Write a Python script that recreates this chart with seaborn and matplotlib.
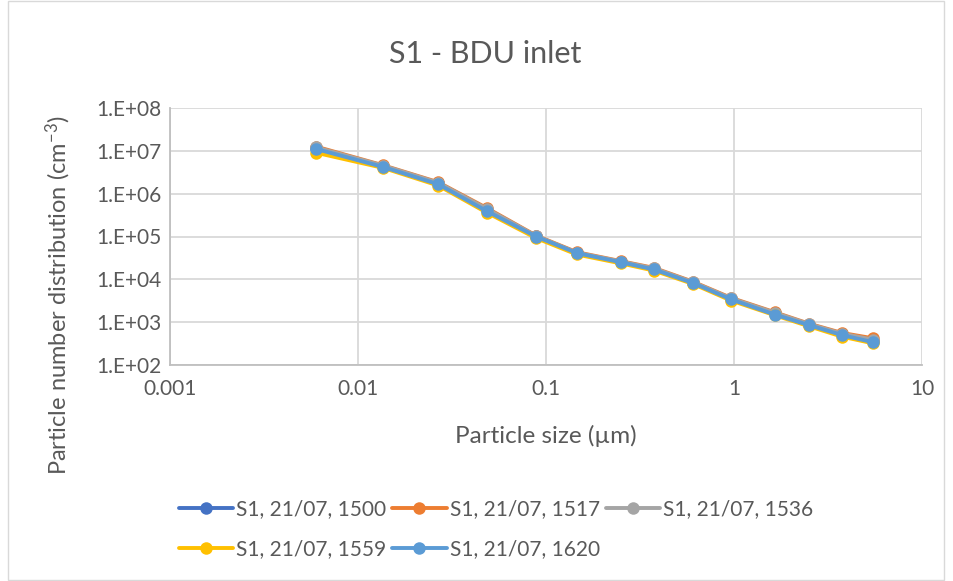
import numpy as np
import pandas as pd
import matplotlib
matplotlib.use('Agg')
import matplotlib.pyplot as plt
import seaborn as sns
from matplotlib.patches import Rectangle

# Particle size (um) - stage midpoints
sizes = [0.006, 0.0136, 0.0267, 0.0485, 0.0885, 0.146, 0.251, 0.375, 0.605, 0.964, 1.65, 2.51, 3.75, 5.49]

# Number distribution (cm-3) per run
s1500 = [1.15e7, 4.4e6, 1.75e6, 4.2e5, 1.02e5, 4.1e4, 2.55e4, 1.75e4, 8.4e3, 3.5e3, 1.6e3, 8.7e2, 5.2e2, 3.7e2]
s1517 = [1.25e7, 4.6e6, 1.85e6, 4.6e5, 1.05e5, 4.3e4, 2.65e4, 1.85e4, 8.8e3, 3.7e3, 1.7e3, 9.2e2, 5.6e2, 4.2e2]
s1536 = [1.2e7, 4.5e6, 1.8e6, 4.4e5, 1.03e5, 4.2e4, 2.6e4, 1.8e4, 8.6e3, 3.6e3, 1.65e3, 9.0e2, 5.4e2, 3.9e2]
s1559 = [9.0e6, 4.0e6, 1.55e6, 3.6e5, 9.2e4, 3.8e4, 2.35e4, 1.6e4, 7.8e3, 3.2e3, 1.45e3, 8.0e2, 4.6e2, 3.2e2]
s1620 = [1.1e7, 4.2e6, 1.66e6, 3.9e5, 1.0e5, 4.1e4, 2.5e4, 1.7e4, 8.2e3, 3.4e3, 1.5e3, 8.5e2, 5.0e2, 3.4e2]

labels = ['S1, 21/07, 1500', 'S1, 21/07, 1517', 'S1, 21/07, 1536',
          'S1, 21/07, 1559', 'S1, 21/07, 1620']
colors = ['#4472C4', '#ED7D31', '#A5A5A5', '#FFC000', '#5B9BD5']

rows = []
for lab, vals in zip(labels, [s1500, s1517, s1536, s1559, s1620]):
    for x, y in zip(sizes, vals):
        rows.append({'size': x, 'count': y, 'run': lab})
df = pd.DataFrame(rows)

sns.set_style("white")
plt.rcParams['font.family'] = ['Lato', 'DejaVu Sans']
plt.rcParams['mathtext.fontset'] = 'custom'
plt.rcParams['mathtext.rm'] = 'Lato'
plt.rcParams['mathtext.default'] = 'regular'
grey = '#595959'

fig = plt.figure(figsize=(9.54, 5.81), dpi=100)
ax = fig.add_axes([170/954, 1 - 365/581, (922 - 170)/954, (365 - 108)/581])

sns.lineplot(data=df, x='size', y='count', hue='run', palette=colors,
             marker='o', markersize=9, markeredgewidth=0, linewidth=2.8,
             ax=ax, legend=False)

ax.set_xscale('log')
ax.set_yscale('log')
ax.set_xlim(0.001, 10)
ax.set_ylim(1e2, 1e8)
ax.set_xticks([0.001, 0.01, 0.1, 1, 10])
ax.set_xticklabels(['0.001', '0.01', '0.1', '1', '10'])
ax.set_yticks([1e2, 1e3, 1e4, 1e5, 1e6, 1e7, 1e8])
ax.set_yticklabels(['1.E+02', '1.E+03', '1.E+04', '1.E+05', '1.E+06', '1.E+07', '1.E+08'])
ax.minorticks_off()
ax.tick_params(axis='both', length=0, labelsize=15, colors=grey)
ax.tick_params(axis='y', pad=6)
ax.tick_params(axis='x', pad=10)
ax.grid(True, color='#D9D9D9', linewidth=1.3)
for s in ['top', 'right']:
    ax.spines[s].set_visible(False)
for s in ['left', 'bottom']:
    ax.spines[s].set_color('#BFBFBF')
    ax.spines[s].set_linewidth(1.3)
ax.set_xlabel('')
ax.set_ylabel('')

fig.text(485/954, 1 - 54/581, 'S1 - BDU inlet', ha='center', va='center',
         fontsize=22, color=grey)
fig.text(546/954, 1 - 436/581, 'Particle size (µm)', ha='center', va='center',
         fontsize=17.5, color=grey)
fig.text(58/954, 1 - 295/581, 'Particle number distribution (cm$^{-3}$)',
         ha='center', va='center', rotation=90, fontsize=17, color=grey)

# legend, row-major order for 3 columns
handles = [plt.Line2D([], [], color=c, marker='o', markersize=9, linewidth=2.8,
                      markeredgewidth=0) for c in colors]
order = [0, 3, 1, 4, 2]
fig.legend([handles[i] for i in order], [labels[i] for i in order],
           ncol=3, loc='center left', bbox_to_anchor=(160/954, 1 - 529/581),
           frameon=False, fontsize=15, labelcolor=grey, handlelength=2.6,
           handletextpad=0.15, columnspacing=0.3, labelspacing=0.95)

fig.patches.append(Rectangle((8/954, 0.002), 936/954, 0.996, transform=fig.transFigure,
                             fill=False, edgecolor='#D9D9D9', linewidth=1))

fig.savefig('out.png', dpi=100)
